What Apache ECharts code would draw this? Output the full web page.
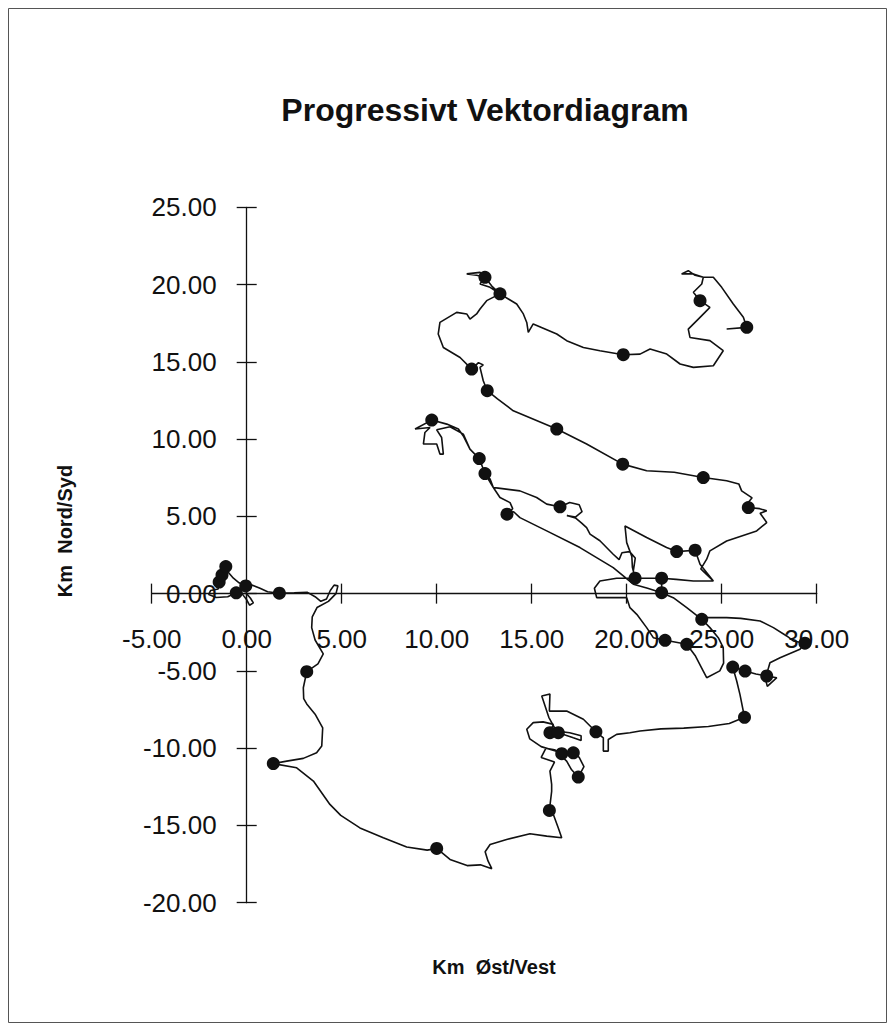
<!DOCTYPE html>
<html>
<head>
<meta charset="utf-8">
<script src="https://cdn.jsdelivr.net/npm/echarts@6/dist/echarts.min.js"></script>
<style>
html,body{margin:0;padding:0;background:#fff;}
#c{width:895px;height:1036px;}
</style>
</head>
<body>
<div id="c"></div>
<script>
// ---- Data (km east/west, km north/south) ----
const titleText = 'Progressivt Vektordiagram';
const xName = 'Km  Øst/Vest';
const yName = 'Km  Nord/Syd';
const xMin = -5, xMax = 30, xStep = 5;
const yMin = -20, yMax = 25, yStep = 5;

// continuous track
const pathX = [
0,0.2,0.35,0.15,0,-0.25,-0.55,-1.0,-1.6,-2.0,-1.9,-1.5,-1.45,-1.3,-1.1,-0.95,-0.7,-0.4,-0.05,0.3,0.7,1.1,1.72,2.5,3.2,3.6,3.9,4.2,4.4,4.6,4.8,4.7,4.3,3.7,3.45,3.42,3.6,4.03,3.75,3.16,
2.98,3.0,3.16,3.6,4.0,3.95,3.68,2.98,2.11,1.4,2.63,3.51,4.38,4.95,5.96,7.19,8.42,9.5,10.0,10.7,11.6,12.3,12.9,12.7,12.55,12.81,13.68,14.91,15.79,16.58,16.4,16.14,15.93,
16.05,16.05,15.96,16.2,15.5,15.75,16.2,16.58,17.19,17.5,17.75,17.45,17.1,16.84,16.3,15.5,14.9,14.74,15.08,15.6,16.14,15.96,16.4,17.19,17.6,17.6,17.0,16.3,15.9,15.53,15.96,15.93,16.84,17.72,18.38,
18.77,18.77,19.03,19.03,19.47,20.17,20.7,21.8,23.0,24.3,25.4,26.2,25.96,25.79,25.58,26.23,26.8,27.37,27.9,27.4,27.3,27.54,28.07,29.12,29.38,28.77,28.42,27.72,27.02,26.0,25.26,24.21,23.95,
24.38,24.82,25.08,25.1,24.9,24.21,24.03,23.6,23.16,22.6,22.02,21.4,21.05,20.53,20.17,20.0,18.42,18.3,18.59,19.47,20.44,20.3,20.27,20.0,19.91,21.05,22.1,22.63,23.6,23.86,24.56,23.51,22.6,21.84,21.84,22.45,23.16,23.95,23.16,22.45,21.84,
21.1,20.35,19.29,17.54,15.79,14.38,14.05,13.7,14.0,13.86,13.33,12.98,12.81,12.54,12.24,11.75,11.4,11.14,10.53,9.74,8.86,9.65,9.38,9.3,10.0,10.17,10.35,10.26,10.0,10.7,11.4,11.75,12.24,12.54,12.98,13.24,
14.38,15.26,15.79,16.49,17.0,17.5,17.65,17.3,16.85,17.3,17.6,17.89,18.07,18.59,19.29,19.6,19.75,20.15,20.45,20.35,20.44,21.84,23.51,24.56,23.9,24.21,24.38,25.26,26.84,27.37,27.02,27.37,27.0,26.4,
26.32,26.6,26.05,25.9,25.26,24.03,22.5,21.05,19.79,17.89,16.32,14.03,13.2,12.66,12.45,12.28,12.45,12.2,11.84,11.23,10.35,10.08,10.17,11.05,11.58,11.75,12.1,12.28,12.63,13.33,12.81,12.28,12.54,12.28,11.58,12.1,12.54,12.9,13.33,
14.21,14.56,14.74,14.82,15.08,16.32,16.84,17.72,18.59,19.82,20.7,21.23,22.11,22.81,23.51,24.56,25.08,24.38,23.33,23.24,23.86,24.38,23.86,23.51,23.95,24.03,23.51,22.89,23.24,23.6,24.03,24.56,25.0,25.61,26.14,26.32,25.26
];
const pathY = [
0,-0.3,-0.6,-0.75,-0.4,0,0.05,-0.2,-0.25,-0.05,0.2,0.3,0.75,1.2,1.75,1.35,1.0,0.7,0.5,0.55,0.35,0.12,0.03,0.05,0.08,-0.2,-0.5,-0.35,0.2,0.55,0.5,0.0,-0.5,-0.9,-1.5,-2.2,-3.0,-3.9,-4.55,-5.05,
-6.09,-6.8,-7.14,-7.8,-8.68,-9.86,-10.3,-10.66,-10.84,-11.0,-11.27,-12.13,-13.64,-14.35,-15.16,-15.8,-16.4,-16.6,-16.49,-17.2,-17.6,-17.55,-17.8,-17.3,-16.7,-16.23,-15.91,-15.54,-15.69,-15.8,-15.16,-14.29,-14.03,
-12.8,-12.34,-11.48,-10.9,-10.6,-10.0,-10.1,-10.36,-10.3,-10.6,-11.2,-11.87,-11.4,-10.84,-10.2,-9.9,-9.4,-8.78,-8.35,-8.3,-8.46,-9.0,-9.0,-9.33,-9.5,-9.2,-9.0,-8.9,-8.0,-6.63,-6.5,-7.6,-7.6,-8.13,-8.94,
-9.33,-10.19,-10.19,-9.44,-9.11,-9.0,-8.89,-8.75,-8.7,-8.6,-8.4,-8.0,-6.52,-5.65,-4.75,-5.01,-5.2,-5.33,-5.44,-6.0,-5.5,-4.47,-4.15,-3.6,-3.21,-3.06,-2.74,-2.2,-1.77,-1.6,-1.55,-1.55,-1.66,
-2.2,-2.85,-3.5,-4.5,-5.0,-5.44,-5.01,-4.0,-3.28,-3.15,-3.02,-2.85,-2.2,-1.34,-0.91,-0.26,-0.26,0.35,0.82,1.0,1.0,1.7,2.4,3.3,4.38,3.63,2.98,2.72,2.81,1.9,0.82,0.82,0.92,1.0,0.06,-0.26,-0.91,-1.66,-0.91,-0.26,0.06,
0.35,0.61,1.68,2.98,4.06,4.92,5.3,5.14,5.5,5.89,6.22,6.87,7.41,7.77,8.74,9.35,10.2,10.65,10.97,11.23,10.65,10.75,10.43,9.68,9.68,9.03,9.03,10.1,10.6,10.8,10.32,9.35,8.74,7.77,6.87,6.83,
6.65,6.22,5.79,5.62,5.9,5.75,5.3,4.95,5.05,4.9,4.6,4.27,3.85,3.42,2.55,2.2,2.65,2.72,2.3,1.47,1.0,1.0,0.82,0.82,1.6,2.23,2.77,3.41,4.06,4.6,5.2,5.36,5.5,5.57,
5.79,6.2,6.65,7.1,7.3,7.51,7.85,7.95,8.38,9.68,10.65,11.83,12.6,13.13,13.78,14.64,14.8,14.95,14.53,15.28,15.93,16.8,17.55,18.2,18.1,17.77,18.1,18.42,18.96,19.4,19.82,20.04,20.47,20.79,20.69,20.6,20.47,19.9,19.4,
18.74,18.1,17.55,16.9,17.45,16.8,16.37,15.93,15.72,15.46,15.5,15.83,15.5,14.86,14.64,14.75,15.72,16.37,16.58,17.12,17.88,18.52,18.96,19.5,20.04,20.47,20.69,20.69,20.9,20.6,20.47,20.47,19.82,18.74,17.88,17.23,17.12
];

// marker dots along the track
const dotX = [-0.55,-1.45,-1.3,-1.1,-0.05,1.72,3.16,1.4,10.0,15.93,16.58,17.19,17.45,15.96,16.4,18.38,26.2,25.58,26.23,27.37,29.38,23.95,23.16,22.02,20.44,22.63,23.6,21.84,21.84,13.7,12.54,12.24,9.74,16.49,26.4,24.03,19.79,16.32,12.66,11.84,13.33,12.54,19.82,23.86,26.32];
const dotY = [0.05,0.75,1.2,1.75,0.5,0.03,-5.05,-11.0,-16.49,-14.03,-10.36,-10.3,-11.87,-9.0,-9.0,-8.94,-8.0,-4.75,-5.01,-5.33,-3.21,-1.66,-3.28,-3.02,1.0,2.72,2.81,1.0,0.06,5.14,7.77,8.74,11.23,5.62,5.57,7.51,8.38,10.65,13.13,14.53,19.4,20.47,15.46,18.96,17.23];

// ---- Chart ----
const pathData = pathX.map((x, i) => [x, pathY[i]]);
const dotData = dotX.map((x, i) => [x, dotY[i]]);
const FONT = '"Liberation Sans", Arial, sans-serif';
const fmt = v => v.toFixed(2);

// plot frame (pixels)
const L = 151.7, T = 207.3, W = 665, H = 695.4;
const zeroY = T + H * (yMax - 0) / (yMax - yMin);
const zeroX = L + W * (0 - xMin) / (xMax - xMin);

const lineSt = {color: '#111', width: 1.3};
const hiddenAxis = (gi) => ({type: 'value', gridIndex: gi, show: false, min: 0, max: 1});
const xScale = {type: 'value', min: xMin, max: xMax, interval: xStep, splitLine: {show: false}};
const yScale = {type: 'value', min: yMin, max: yMax, interval: yStep, splitLine: {show: false}};

const chart = echarts.init(document.getElementById('c'), null, {renderer: 'svg'});
chart.setOption({
  animation: false,
  backgroundColor: '#fff',
  title: {
    text: titleText, left: 480, top: 89, textAlign: 'center',
    textStyle: {fontFamily: FONT, fontWeight: 'bold', fontSize: 32, color: '#111'}
  },
  grid: [
    {left: L, top: T, width: W, height: H},                       // 0: data
    {left: L, top: T, width: W, height: zeroY - T},               // 1: upper half -> x axis line + labels
    {left: L, top: zeroY, width: W, height: T + H - zeroY},       // 2: lower half -> upward tick halves
    {left: zeroX, top: T, width: L + W - zeroX, height: H},       // 3: right part -> y axis line + labels
    {left: L, top: T, width: zeroX - L, height: H}                // 4: left part -> right tick halves
  ],
  xAxis: [
    Object.assign({}, xScale, {gridIndex: 0, show: false}),
    Object.assign({}, xScale, {gridIndex: 1, position: 'bottom',
      axisLine: {show: true, onZero: false, lineStyle: lineSt},
      axisTick: {show: true, length: 10, lineStyle: lineSt},
      axisLabel: {show: true, margin: 32, formatter: fmt, fontFamily: FONT, fontSize: 26, color: '#111',
                  showMinLabel: true, showMaxLabel: true}}),
    Object.assign({}, xScale, {gridIndex: 2, position: 'top',
      axisLine: {show: false, onZero: false},
      axisTick: {show: true, length: 10, lineStyle: lineSt},
      axisLabel: {show: false}}),
    hiddenAxis(3),
    hiddenAxis(4)
  ],
  yAxis: [
    Object.assign({}, yScale, {gridIndex: 0, show: false}),
    hiddenAxis(1),
    hiddenAxis(2),
    Object.assign({}, yScale, {gridIndex: 3, position: 'left',
      axisLine: {show: true, onZero: false, lineStyle: lineSt},
      axisTick: {show: true, length: 10, lineStyle: lineSt},
      axisLabel: {show: true, margin: 30, formatter: fmt, fontFamily: FONT, fontSize: 26, color: '#111',
                  showMinLabel: true, showMaxLabel: true}}),
    Object.assign({}, yScale, {gridIndex: 4, position: 'right',
      axisLine: {show: false, onZero: false},
      axisTick: {show: true, length: 10, lineStyle: lineSt},
      axisLabel: {show: false}})
  ],
  graphic: [
    {type: 'rect', shape: {x: 8.5, y: 8.5, width: 878, height: 1014},
     style: {fill: 'none', stroke: '#555', lineWidth: 1}, silent: true},
    {type: 'text', x: 494, y: 967,
     style: {text: xName, font: 'bold 20px ' + FONT, fill: '#111', align: 'center', verticalAlign: 'middle'}},
    {type: 'text', x: 65, y: 531, rotation: Math.PI / 2,
     style: {text: yName, font: 'bold 20px ' + FONT, fill: '#111', align: 'center', verticalAlign: 'middle'}}
  ],
  series: [
    {type: 'line', xAxisIndex: 0, yAxisIndex: 0, data: pathData, showSymbol: false, symbol: 'none', smooth: false,
     lineStyle: {color: '#111', width: 1.6}, z: 2, silent: true},
    {type: 'scatter', xAxisIndex: 0, yAxisIndex: 0, data: dotData, symbol: 'circle', symbolSize: 13,
     itemStyle: {color: '#111', opacity: 1}, z: 3, silent: true}
  ]
});
</script>
</body>
</html>
